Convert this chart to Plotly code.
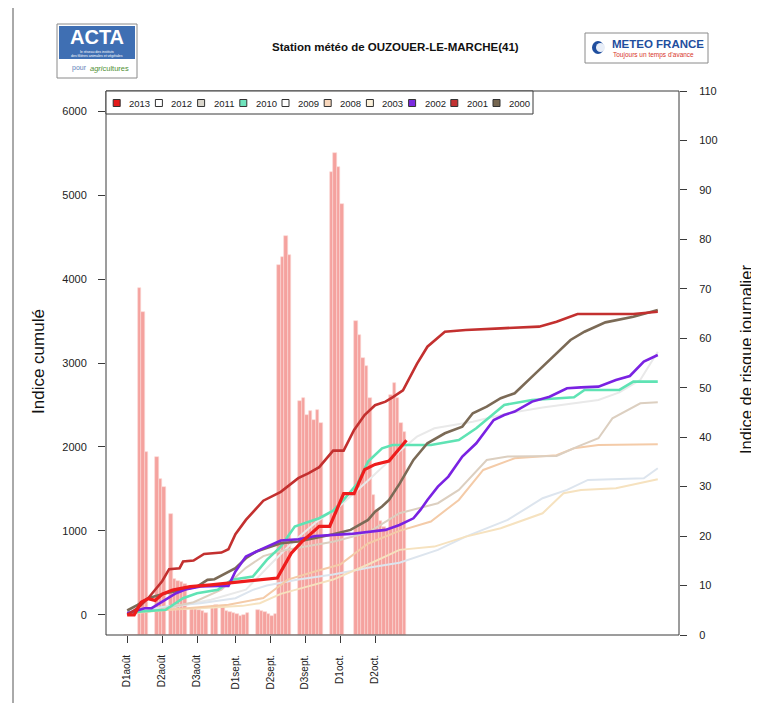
import numpy as np
import plotly.graph_objects as go

# ---------------- data ----------------
tick_days = [1, 11, 21, 32, 42, 52, 62, 72]
tick_labels = ["D1août", "D2août", "D3août", "D1sept.", "D2sept.", "D3sept.", "D1oct.", "D2oct."]

# daily risk index 2013 (bars, right axis), one value per day from 1 Aug
risk_2013 = [0, 0, 0, 0, 70.2, 65.3, 37.0, 0, 0, 36.0, 31.5, 30.0, 0, 24.5, 11.3, 11.0, 10.8, 10.4, 0,
             5.4, 5.2, 5.0, 4.9, 4.4, 0, 5.8, 6.0, 0,
             5.9, 4.9, 4.7, 4.5, 4.3, 3.9, 4.1, 4.4, 0, 0,
             5.0, 4.9, 4.7, 4.3, 3.9, 4.3, 74.8, 76.4, 80.6, 76.9, 0, 0,
             47.3, 47.9, 44.4, 45.2, 43.4, 45.4, 42.8, 0, 0,
             93.7, 97.5, 94.7, 87.1, 0, 0, 0,
             63.4, 60.7, 56.0, 54.3, 47.9, 28.3, 25.3, 23.0, 21.9, 21.5, 48.5, 50.9, 47.9, 42.8, 41.1]

# cumulative index per year (left axis): sampled day numbers (1 = 1 Aug) and values
d2013 = [1, 3, 5, 7, 9, 11, 14, 19, 25, 32, 38, 44, 48, 51, 56, 59, 63, 66, 69, 72, 76, 78, 81]
v2013 = [0, 0, 152, 193, 172, 246, 295, 336, 357, 385, 410, 439, 734, 869, 1054, 1054, 1443, 1443, 1730, 1792, 1833, 1935, 2079]

d2012 = [1, 15, 25, 35, 42, 48, 55, 62, 70, 79, 84, 89, 100, 110, 120, 136, 142, 148, 153]
v2012 = [20, 100, 180, 300, 600, 850, 1100, 1300, 1600, 1950, 2123, 2222, 2300, 2400, 2470, 2560, 2650, 2800, 3135]

d2011 = [1, 10, 20, 28, 35, 40, 45, 50, 60, 70, 79, 85, 90, 96, 104, 110, 124, 130, 136, 140, 148, 153]
v2011 = [30, 60, 150, 300, 560, 700, 760, 800, 870, 980, 1210, 1280, 1330, 1488, 1845, 1885, 1893, 2004, 2103, 2341, 2520, 2532]

d2010 = [1, 5, 12, 17, 21, 24, 27, 31, 37, 41, 45, 49, 52, 56, 60, 63, 67, 70, 74, 77, 88, 96, 101, 109, 117, 129, 132, 142, 146, 153]
v2010 = [20, 40, 60, 198, 258, 278, 300, 417, 456, 655, 813, 1052, 1091, 1151, 1240, 1369, 1567, 1825, 1984, 2024, 2024, 2083, 2222, 2500, 2560, 2591, 2679, 2679, 2778, 2778]

d2009 = [1, 12, 22, 32, 37, 41, 50, 60, 70, 79, 90, 98, 110, 120, 127, 133, 149, 153]
v2009 = [20, 99, 139, 198, 298, 350, 420, 480, 560, 620, 774, 932, 1131, 1389, 1488, 1607, 1627, 1746]

d2008 = [1, 10, 20, 30, 40, 47, 55, 62, 70, 79, 88, 96, 103, 112, 124, 129, 136, 153]
v2008 = [20, 50, 90, 120, 200, 420, 520, 600, 850, 1000, 1111, 1369, 1726, 1865, 1901, 1984, 2024, 2032]

d2003 = [1, 12, 22, 34, 39, 45, 52, 60, 70, 79, 89, 98, 108, 120, 126, 131, 141, 153]
v2003 = [10, 60, 79, 107, 139, 250, 330, 420, 600, 774, 813, 932, 1032, 1210, 1448, 1488, 1508, 1615]

d2002 = [1, 3, 6, 8, 11, 12, 15, 18, 22, 27, 30, 32, 35, 39, 42, 45, 50, 55, 65, 75, 79, 83, 85, 87, 90, 93, 97, 101, 106, 109, 112, 117, 122, 127, 131, 136, 141, 145, 149, 153]
v2002 = [20, 40, 79, 79, 159, 179, 258, 306, 337, 345, 345, 516, 694, 774, 833, 885, 901, 940, 964, 1012, 1071, 1150, 1250, 1369, 1528, 1647, 1885, 2044, 2321, 2381, 2421, 2540, 2599, 2699, 2710, 2718, 2798, 2845, 3016, 3095]

d2001 = [1, 4, 7, 11, 13, 16, 17, 20, 23, 28, 30, 32, 35, 40, 45, 50, 53, 56, 60, 63, 66, 69, 72, 75, 77, 80, 84, 87, 92, 98, 108, 119, 124, 130, 137, 146, 153]
v2001 = [0, 79, 198, 400, 544, 556, 635, 647, 726, 742, 782, 960, 1131, 1360, 1465, 1628, 1689, 1759, 1956, 1956, 2202, 2380, 2497, 2540, 2590, 2675, 2990, 3194, 3373, 3393, 3413, 3433, 3492, 3583, 3583, 3583, 3611]

d2000 = [1, 4, 7, 12, 17, 21, 24, 26, 32, 35, 38, 41, 45, 50, 55, 60, 65, 70, 72, 74, 76, 79, 83, 87, 92, 97, 100, 104, 108, 112, 117, 122, 128, 132, 138, 146, 153]
v2000 = [52, 119, 198, 258, 298, 337, 417, 425, 556, 675, 754, 794, 853, 873, 913, 960, 1012, 1131, 1230, 1290, 1369, 1560, 1845, 2044, 2163, 2242, 2401, 2480, 2580, 2639, 2837, 3036, 3274, 3373, 3484, 3552, 3631]

years = ["2013", "2012", "2011", "2010", "2009", "2008", "2003", "2002", "2001", "2000"]

# ---------------- styles ----------------
series = {
    "2013": (d2013, v2013, "#EE1C1C", 3.2),
    "2012": (d2012, v2012, "#E9E9E9", 2.0),
    "2011": (d2011, v2011, "#DCCFC0", 2.0),
    "2010": (d2010, v2010, "#5FE3B4", 2.6),
    "2009": (d2009, v2009, "#DDE5EE", 2.0),
    "2008": (d2008, v2008, "#F4CBA8", 2.0),
    "2003": (d2003, v2003, "#F6E2BF", 2.0),
    "2002": (d2002, v2002, "#7A22E2", 2.6),
    "2001": (d2001, v2001, "#C3302F", 2.6),
    "2000": (d2000, v2000, "#7B6A56", 2.6),
}
legend_fill = {"2013": "#E31A1A", "2012": "#FFFFFF", "2011": "#DAD6CC", "2010": "#6FE3BC",
               "2009": "#FFFFFF", "2008": "#F8D7BC", "2003": "#FCF1DA", "2002": "#7B2BE0",
               "2001": "#C23232", "2000": "#756650"}

OFF = 8                      # page body margin of the browser
W, H = 759 - OFF, 703 - OFF
L, R, T, B = 106, 679, 91, 635   # plot box in reference pixels
FONT = "Liberation Sans, Arial, sans-serif"


def px(x):
    return (x - L) / (R - L)


def py(y):
    return (B - y) / (B - T)


fig = go.Figure()

bar_x = np.arange(1, len(risk_2013) + 1) - 0.5
fig.add_trace(go.Bar(x=bar_x, y=risk_2013, width=1.0, yaxis="y",
                     marker=dict(color="#F5A29E", line=dict(color="#FBD6D3", width=0.6)),
                     showlegend=False, hoverinfo="skip"))

draw_order = ["2012", "2009", "2003", "2008", "2011", "2010", "2000", "2002", "2001", "2013"]
for yr in draw_order:
    d, v, c, w = series[yr]
    fig.add_trace(go.Scatter(x=d, y=v, mode="lines", yaxis="y2", name=yr,
                             line=dict(color=c, width=w, shape="linear"),
                             showlegend=False))

shapes = []
annotations = []

# plot box
shapes.append(dict(type="rect", xref="paper", yref="paper", x0=0, x1=1, y0=0, y1=1,
                   line=dict(color="#3a3a3a", width=1)))
# page frame left line
shapes.append(dict(type="line", xref="paper", yref="paper", x0=px(13), x1=px(13), y0=py(-5), y1=py(710),
                   line=dict(color="#555555", width=1)))

# manual legend
shapes.append(dict(type="rect", xref="paper", yref="paper", x0=px(106), x1=px(533), y0=py(114), y1=py(91),
                   line=dict(color="#3a3a3a", width=1), fillcolor="white"))
for i, yr in enumerate(years):
    cx = 116.7 + 42.2 * i
    cy = 103
    shapes.append(dict(type="rect", xref="paper", yref="paper",
                       x0=px(cx - 3.5), x1=px(cx + 3.5), y0=py(cy + 3.5), y1=py(cy - 3.5),
                       line=dict(color="#333333", width=1), fillcolor=legend_fill[yr]))
    annotations.append(dict(xref="paper", yref="paper", x=px(cx + 10.5), y=py(cy), text=yr,
                            showarrow=False, xanchor="left", yanchor="middle",
                            font=dict(family=FONT, size=9.5, color="#222222")))

# title
annotations.append(dict(xref="paper", yref="paper", x=px(395), y=py(47),
                        text="<b>Station météo de OUZOUER-LE-MARCHE(41)</b>", showarrow=False,
                        xanchor="center", yanchor="middle", font=dict(family=FONT, size=11.5, color="#111111")))

# axis titles
annotations.append(dict(xref="paper", yref="paper", x=px(38), y=py(362), text="Indice cumulé",
                        textangle=-90, showarrow=False, xanchor="center", yanchor="middle",
                        font=dict(family=FONT, size=17, color="#111111")))
annotations.append(dict(xref="paper", yref="paper", x=px(746), y=py(360), text="Indice de risque journalier",
                        textangle=-90, showarrow=False, xanchor="center", yanchor="middle",
                        font=dict(family=FONT, size=16.5, color="#111111")))

# ACTA logo
shapes.append(dict(type="rect", xref="paper", yref="paper", x0=px(57), x1=px(137), y0=py(78), y1=py(24),
                   line=dict(color="#8a8a8a", width=1), fillcolor="white"))
shapes.append(dict(type="rect", xref="paper", yref="paper", x0=px(59), x1=px(135), y0=py(59), y1=py(26),
                   line=dict(width=0), fillcolor="#3F6FB3"))
annotations.append(dict(xref="paper", yref="paper", x=px(97), y=py(37), text="<b>ACTA</b>", showarrow=False,
                        xanchor="center", yanchor="middle", font=dict(family=FONT, size=20, color="white")))
annotations.append(dict(xref="paper", yref="paper", x=px(97), y=py(51.5), text="le réseau des instituts",
                        showarrow=False, xanchor="center", yanchor="middle",
                        font=dict(family=FONT, size=3.5, color="white")))
annotations.append(dict(xref="paper", yref="paper", x=px(97), y=py(55.5), text="des filières animales et végétales",
                        showarrow=False, xanchor="center", yanchor="middle",
                        font=dict(family=FONT, size=3.5, color="white")))
annotations.append(dict(xref="paper", yref="paper", x=px(70), y=py(68), text="pour", showarrow=False,
                        xanchor="left", yanchor="middle", font=dict(family=FONT, size=7, color="#5d7fb8")))
annotations.append(dict(xref="paper", yref="paper", x=px(88), y=py(68), text="<i>agri</i>cultures", showarrow=False,
                        xanchor="left", yanchor="middle", font=dict(family=FONT, size=7.5, color="#4f8f35")))

# METEO FRANCE logo
shapes.append(dict(type="rect", xref="paper", yref="paper", x0=px(585), x1=px(708), y0=py(63), y1=py(33),
                   line=dict(color="#8a8a8a", width=1), fillcolor="white"))
shapes.append(dict(type="circle", xref="paper", yref="paper", x0=px(592), x1=px(604), y0=py(54), y1=py(41),
                   line=dict(width=0), fillcolor="#1F4E9E"))
shapes.append(dict(type="circle", xref="paper", yref="paper", x0=px(596), x1=px(605), y0=py(52), y1=py(43),
                   line=dict(width=0), fillcolor="#E8EEF8"))
annotations.append(dict(xref="paper", yref="paper", x=px(610), y=py(44), text="<b>METEO FRANCE</b>", showarrow=False,
                        xanchor="left", yanchor="middle", font=dict(family=FONT, size=11.5, color="#1F4E9E")))
annotations.append(dict(xref="paper", yref="paper", x=px(611), y=py(55), text="Toujours un temps d'avance",
                        showarrow=False, xanchor="left", yanchor="middle",
                        font=dict(family=FONT, size=6.5, color="#D8352B")))

fig.update_layout(
    width=W, height=H,
    margin=dict(l=L - OFF, r=W - (R - OFF), t=T - OFF, b=H - (B - OFF), pad=0),
    paper_bgcolor="white", plot_bgcolor="white",
    showlegend=False, bargap=0,
    font=dict(family=FONT, size=11, color="#222222"),
    xaxis=dict(range=[-5.08, 159.08], tickmode="array", tickvals=tick_days, ticktext=tick_labels,
               tickangle=-90, ticks="outside", ticklen=7, tickcolor="#3a3a3a", showgrid=False,
               zeroline=False, showline=False, ticklabelstandoff=8,
               tickfont=dict(family=FONT, size=10, color="#222222")),
    yaxis=dict(range=[0, 110], side="right", tickmode="array", tickvals=list(range(0, 111, 10)),
               ticks="outside", ticklen=7, tickcolor="#3a3a3a", showgrid=False, zeroline=False,
               showline=False, ticklabelstandoff=10,
               tickfont=dict(family=FONT, size=11, color="#222222")),
    yaxis2=dict(range=[-240, 6240], side="left", overlaying="y", tickmode="array",
                tickvals=list(range(0, 6001, 1000)), ticks="outside", ticklen=7, tickcolor="#3a3a3a",
                showgrid=False, zeroline=False, showline=False, ticklabelstandoff=9,
                tickfont=dict(family=FONT, size=11, color="#222222")),
    shapes=shapes, annotations=annotations,
)

fig.write_html("out.html")
